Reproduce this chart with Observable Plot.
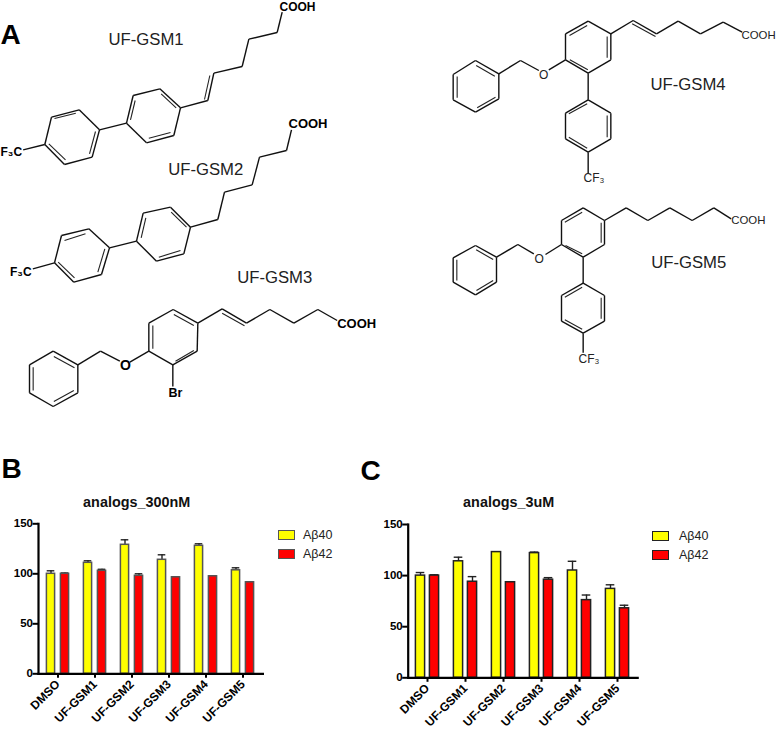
<!DOCTYPE html>
<html><head><meta charset="utf-8">
<style>
html,body{margin:0;padding:0;background:#fff;}
body{position:relative;width:776px;height:729px;overflow:hidden;font-family:"Liberation Sans",Arial,sans-serif;}
.layer{position:absolute;}
.layer svg{display:block;background:transparent;overflow:visible;}
.ttl{position:absolute;font-weight:bold;font-size:14.4px;transform:translateX(-50%);white-space:nowrap;line-height:16px;color:#111;}
.sw{position:absolute;width:17px;height:10px;box-sizing:border-box;border:1.5px solid #444;}
.lg{position:absolute;font-size:12.5px;line-height:14px;color:#222;}
</style>
<script src="https://cdn.jsdelivr.net/npm/d3@7"></script>
<script src="https://cdn.jsdelivr.net/npm/@observablehq/plot@0.6"></script>
</head><body>
<script>
// ---------- bar chart data ----------
const categories = ["DMSO","UF-GSM1","UF-GSM2","UF-GSM3","UF-GSM4","UF-GSM5"];
const seriesNames = ["A\u03b240","A\u03b242"];
const yTicks = [0,50,100,150];
const a40_300 = [100,111,129,114,128,103.5];
const a40_300_top = [103,113,134,119,130,106];
const a42_300 = [100,103,98,96.5,97.5,91.5];
const a42_300_top = [100.8,104.5,100,97,98,92];
const a40_3 = [100,114,123,122,105,87];
const a40_3_top = [103,118,123,123,114,91];
const a42_3 = [100,94,93.5,96,76,68];
const a42_3_top = [100.8,99,94,98,81,71];
const yellow = "#ffff00", red = "#ff0000";

// ---------- chemical structures (traced in 3x drawing units; each has its own origin) ----------
const gsm1Origin = [0,0];
const gsm1Paths = [
 [[398,285],[478,265],[540,322],[520,405],[438,427],[378,368],[398,285]],
 [[153,350],[236,328],[297,388],[275,470],[192,492],[133,432],[153,350]],
 [[297,388],[378,368]],[[133,432],[68,448]],
 [[540,322],[622,300],[640,218],[725,198],[745,116],[830,96],[845,35]]];
const gsm1Doubles = [[404,300,390,358],[482,280,527,322],[445,413,510,396],[162,354,226,338],[285,393,267,460],[195,478,145,430],[628,225,612,297]];
const gsm2Origin = [0,0];
const gsm2Paths = [
 [[428,638],[510,620],[570,680],[550,760],[468,782],[408,722],[428,638]],
 [[183,705],[265,685],[327,742],[303,822],[220,845],[162,787],[183,705]],
 [[327,742],[408,722]],[[162,787],[97,805]],
 [[570,680],[652,657],[672,575],[755,553],[777,470],[858,450],[873,388]]];
const gsm2Doubles = [[436,652,422,712],[512,635,558,680],[475,770,540,750],[192,720,255,700],[313,745,292,815],[222,832,173,785]];
const gsm3Origin = [0,230];
const gsm3Paths = [
 [[445,278],[518,237],[592,278],[590,362],[517,403],[445,362],[445,278]],
 [[592,278],[665,235],[738,278],[808,237],[880,278],[952,237],[1010,270]],
 [[445,362],[388,395]],[[358,392],[300,362],[232,403]],
 [[232,403],[158,362],[87,403],[87,487],[158,528],[232,487],[232,403]],
 [[517,403],[517,468]]];
const gsm3Doubles = [[457,285,457,355],[520,252,580,285],[525,392,580,360],[665,248,732,286],[160,378,222,412],[98,410,98,480],[160,513,220,480]];
const gsm4Origin = [430,0];
const gsm4Paths = [
 [[405,100],[473,62],[541,100],[541,178],[473,218],[405,178],[405,100]],
 [[541,100],[608,60],[678,100],[743,62],[810,100],[878,65],[935,95]],
 [[405,178],[355,208]],[[325,210],[270,180],[205,220]],
 [[205,220],[135,180],[68,222],[68,298],[135,335],[205,295],[205,220]],
 [[473,218],[473,298]],
 [[473,298],[541,338],[541,415],[473,455],[405,415],[405,338],[473,298]],
 [[473,455],[473,518]]];
const gsm4Doubles = [[417,105,470,75],[530,108,530,172],[418,178,472,208],[605,70,675,108],[137,195,193,227],[80,228,80,292],[140,322,195,290],[530,345,530,410],[470,443,415,410],[415,340,470,310]];
const gsm5Origin = [430,190];
const gsm5Paths = [
 [[393,90],[458,52],[522,90],[522,162],[458,200],[393,162],[393,90]],
 [[522,90],[587,52],[652,90],[718,52],[785,90],[850,52],[902,85]],
 [[393,162],[345,192]],[[310,190],[262,162],[198,200]],
 [[198,200],[135,165],[68,202],[68,275],[135,313],[198,275],[198,200]],
 [[458,200],[458,278]],
 [[458,278],[522,315],[522,392],[458,428],[393,392],[393,315],[458,278]],
 [[458,428],[458,487]]];
const gsm5Doubles = [[403,95,455,65],[512,97,512,157],[405,165,455,190],[137,178,188,207],[79,208,79,270],[138,300,188,270],[512,322,512,385],[455,416,403,388],[403,320,455,290]];

// text on the structure layer: [text, x, y(baseline), size, weight]
const structureLabels = [
 ["A",0,43,28,"bold"],["B",1,477,28,"bold"],["C",360,479,28,"bold"],
 ["UF-GSM1",108,44.7,16.7,"normal"],["UF-GSM2",167.7,174.3,16.7,"normal"],["UF-GSM3",236.7,282.7,16.7,"normal"],
 ["UF-GSM4",650,89.3,16.7,"normal"],["UF-GSM5",650.7,267.3,16.7,"normal"],
 ["COOH",279,10.5,12,"bold"],["COOH",288,127.7,13,"bold"],["COOH",336.7,327.3,13,"bold"],
 ["COOH",741,38.3,11.4,"normal"],["COOH",730.7,223.3,11.4,"normal"],
 ["F\u2083C",0,155,12,"bold"],["F\u2083C",9.5,275,12,"bold"],
 ["O",119.5,369,14,"bold"],["Br",168,396,12.5,"bold"],
 ["O",538.5,78,12,"normal"],["O",534,262.5,12,"normal"],
 ["CF\u2083",583,181,12,"normal"],["CF\u2083",578,362,12,"normal"]
];

// flatten traced structures into drawable bonds
function toBonds(origin, paths, doubles){
  const out=[];
  for(const p of paths) for(let i=1;i<p.length;i++)
    out.push({x1:origin[0]+p[i-1][0]/3,y1:origin[1]+p[i-1][1]/3,x2:origin[0]+p[i][0]/3,y2:origin[1]+p[i][1]/3,w:1.4});
  for(const d of doubles)
    out.push({x1:origin[0]+d[0]/3,y1:origin[1]+d[1]/3,x2:origin[0]+d[2]/3,y2:origin[1]+d[3]/3,w:1.1});
  return out;
}
const bonds = [
 ...toBonds(gsm1Origin,gsm1Paths,gsm1Doubles),...toBonds(gsm2Origin,gsm2Paths,gsm2Doubles),
 ...toBonds(gsm3Origin,gsm3Paths,gsm3Doubles),...toBonds(gsm4Origin,gsm4Paths,gsm4Doubles),
 ...toBonds(gsm5Origin,gsm5Paths,gsm5Doubles)];

function place(node,left,top){
  const d=document.createElement("div");d.className="layer";d.style.left=left+"px";d.style.top=top+"px";
  d.appendChild(node);document.body.appendChild(d);
}

const thinBonds = bonds.filter(b=>b.w<1.2), thickBonds = bonds.filter(b=>b.w>=1.2);
place(Plot.plot({
  width:776,height:729,margin:0,
  x:{type:"linear",domain:[0,776],range:[0,776],axis:null},
  y:{type:"linear",domain:[0,729],range:[0,729],axis:null},
  style:{fontFamily:"'Liberation Sans',Arial,sans-serif",background:"transparent"},
  marks:[
    Plot.link(thickBonds,{x1:"x1",y1:"y1",x2:"x2",y2:"y2",stroke:"#111",strokeWidth:1.4}),
    Plot.link(thinBonds,{x1:"x1",y1:"y1",x2:"x2",y2:"y2",stroke:"#222",strokeWidth:1.1}),
    ...d3.groups(structureLabels,d=>d[3]+d[4]).map(([,rows])=>Plot.text(rows,{
      x:d=>d[1],y:d=>d[2],text:d=>d[0],textAnchor:"start",lineAnchor:"bottom",
      fontSize:rows[0][3],fontWeight:rows[0][4],fill:rows[0][4]==="bold"?"#000":"#222"}))
  ]
}),0,0);

function chart({vals40,tops40,vals42,tops42,left,top,width,height,ml,mr,mt,mb,edge}){
  const bw=14.4, off=7;
  const bar=(vals,dx,fill)=>Plot.barY(vals,{x:categories,y:vals,fill,stroke:edge,strokeWidth:1.5,dx,insetLeft:bw,insetRight:bw});
  const err=(vals,tops,dx)=>[
    Plot.ruleX(vals,{x:categories,y1:vals,y2:tops,dx,stroke:"#222",strokeWidth:1.4}),
    Plot.tickY(tops,{x:categories,y:tops,dx,insetLeft:14.7,insetRight:14.7,stroke:"#222",strokeWidth:1.4})];
  return place(Plot.plot({
    width,height,marginLeft:ml,marginRight:mr,marginTop:mt,marginBottom:mb,
    style:{fontFamily:"'Liberation Sans',Arial,sans-serif",background:"transparent",color:"#000"},
    x:{type:"band",domain:categories,padding:0,label:null},
    y:{domain:[0,150],label:null,grid:false},
    marks:[
      ...err(vals40,tops40,-off),...err(vals42,tops42,off),
      bar(vals40,-off,yellow),bar(vals42,off,red),
      Plot.axisY({ticks:yTicks,tickSize:5.5,tickPadding:0,fontSize:11.5,fontWeight:"bold",strokeWidth:2,label:null}),
      Plot.axisX({tickSize:4.5,tickRotate:-45,tickPadding:4,fontSize:12,fontWeight:"bold",strokeWidth:2,label:null}),
      Plot.frame({anchor:"left",stroke:"#000",strokeWidth:2.2}),
      Plot.frame({anchor:"bottom",stroke:"#000",strokeWidth:2.2})
    ]
  }),left,top);
}
chart({vals40:a40_300,tops40:a40_300_top,vals42:a42_300,tops42:a42_300_top,left:0,top:510,width:300,height:219,ml:38,mr:37.6,mt:13.3,mb:55.7,edge:"#555"});
chart({vals40:a40_3,tops40:a40_3_top,vals42:a42_3,tops42:a42_3_top,left:380,top:510,width:300,height:219,ml:27.7,mr:42.8,mt:14,mb:51.7,edge:"#222"});

function html(cls,txt,css){const e=document.createElement("div");e.className=cls;if(txt)e.textContent=txt;Object.assign(e.style,css);document.body.appendChild(e);}
html("ttl","analogs_300nM",{left:"136.7px",top:"494px"});
html("ttl","analogs_3uM",{left:"508.7px",top:"494px"});
[[277.7,530,303,"#555"],[652.3,531,679,"#222"]].forEach(([sx,sy,tx,edge])=>{
  [yellow,red].forEach((c,i)=>{
    const y=sy+i*19;
    html("sw","",{left:sx+"px",top:y+"px",background:c,borderColor:edge});
    html("lg",seriesNames[i],{left:tx+"px",top:(y-2)+"px"});
  });
});
</script>
</body></html>
